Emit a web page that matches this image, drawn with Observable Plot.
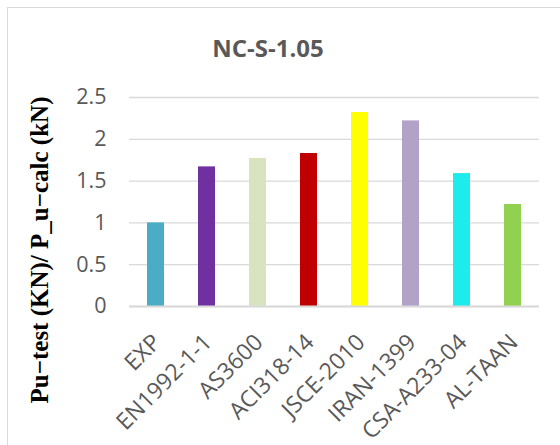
<!DOCTYPE html>
<html>
<head>
<meta charset="utf-8">
<script src="https://cdn.jsdelivr.net/npm/d3@7"></script>
<script src="https://cdn.jsdelivr.net/npm/@observablehq/plot@0.6"></script>
<style>
  html, body { margin: 0; padding: 0; background: #fff; }
  #wrap { position: relative; width: 560px; height: 445px; overflow: hidden; }
  #border { position: absolute; left: 7px; top: 7px; width: 620px; height: 500px;
            border: 1px solid #d9d9d9; box-sizing: border-box; }
  #title { position: absolute; left: 0; top: 0; width: 536px; height: 80px;
           font: 700 24px "Open Sans", sans-serif; color: #595959;
           text-align: center; line-height: 96px; }
  #chart { position: absolute; left: 0; top: 80px; }
  #chart svg { overflow: visible; }
</style>
</head>
<body>
<div id="wrap">
  <div id="border"></div>
  <div id="title">NC-S-1.05</div>
  <div id="chart"></div>
</div>
<script>
// Design codes compared against the experimental result
const codes = ["EXP", "EN1992-1-1", "AS3600", "ACI318-14", "JSCE-2010", "IRAN-1399", "CSA-A233-04", "AL-TAAN"];
// Pu-test / Pu-calc ratio for each code
const ratios = [1.0, 1.67, 1.77, 1.83, 2.32, 2.22, 1.59, 1.22];
// Bar fill for each code
const barColors = ["#4bacc6", "#7030a0", "#d7e4bd", "#c00000", "#ffff00", "#b3a2c7", "#1decec", "#92d050"];
const yTicks = [0, 0.5, 1, 1.5, 2, 2.5];
const yLabel = "Pu\u2212test (KN)/ P_u\u2212calc (kN)";

const rows = codes.map((code, i) => ({code, ratio: ratios[i], color: barColors[i]}));

const chart = Plot.plot({
  width: 560,
  height: 365,
  marginLeft: 129,
  marginRight: 21,
  marginTop: 17,
  marginBottom: 139,
  style: {fontFamily: "'Open Sans', sans-serif", color: "#595959", background: "transparent"},
  x: {domain: codes, paddingInner: 0.668, paddingOuter: 0.334},
  y: {domain: [0, 2.5]},
  marks: [
    Plot.gridY(yTicks, {stroke: "#d9d9d9", strokeOpacity: 1, strokeWidth: 1.3}),
    Plot.barY(rows, {x: "code", y: "ratio", fill: "color"}),
    Plot.ruleY([0], {stroke: "#d9d9d9", strokeWidth: 2}),
    Plot.axisY(yTicks, {tickSize: 0, tickPadding: 23, fontSize: 21.5, fill: "#595959", label: null,
                        tickFormat: d => String(d)}),
    Plot.axisX({tickSize: 0, tickPadding: 32, tickRotate: -45, fontSize: 23, fill: "#595959",
                label: null, dx: 1}),
    Plot.text([yLabel], {frameAnchor: "left", textAnchor: "middle", rotate: -90, dx: -90, dy: 48,
                         fontSize: 25, fontWeight: "bold", fill: "#000",
                         fontFamily: "'Liberation Serif', 'Times New Roman', serif"})
  ]
});
document.getElementById("chart").append(chart);
</script>
</body>
</html>
